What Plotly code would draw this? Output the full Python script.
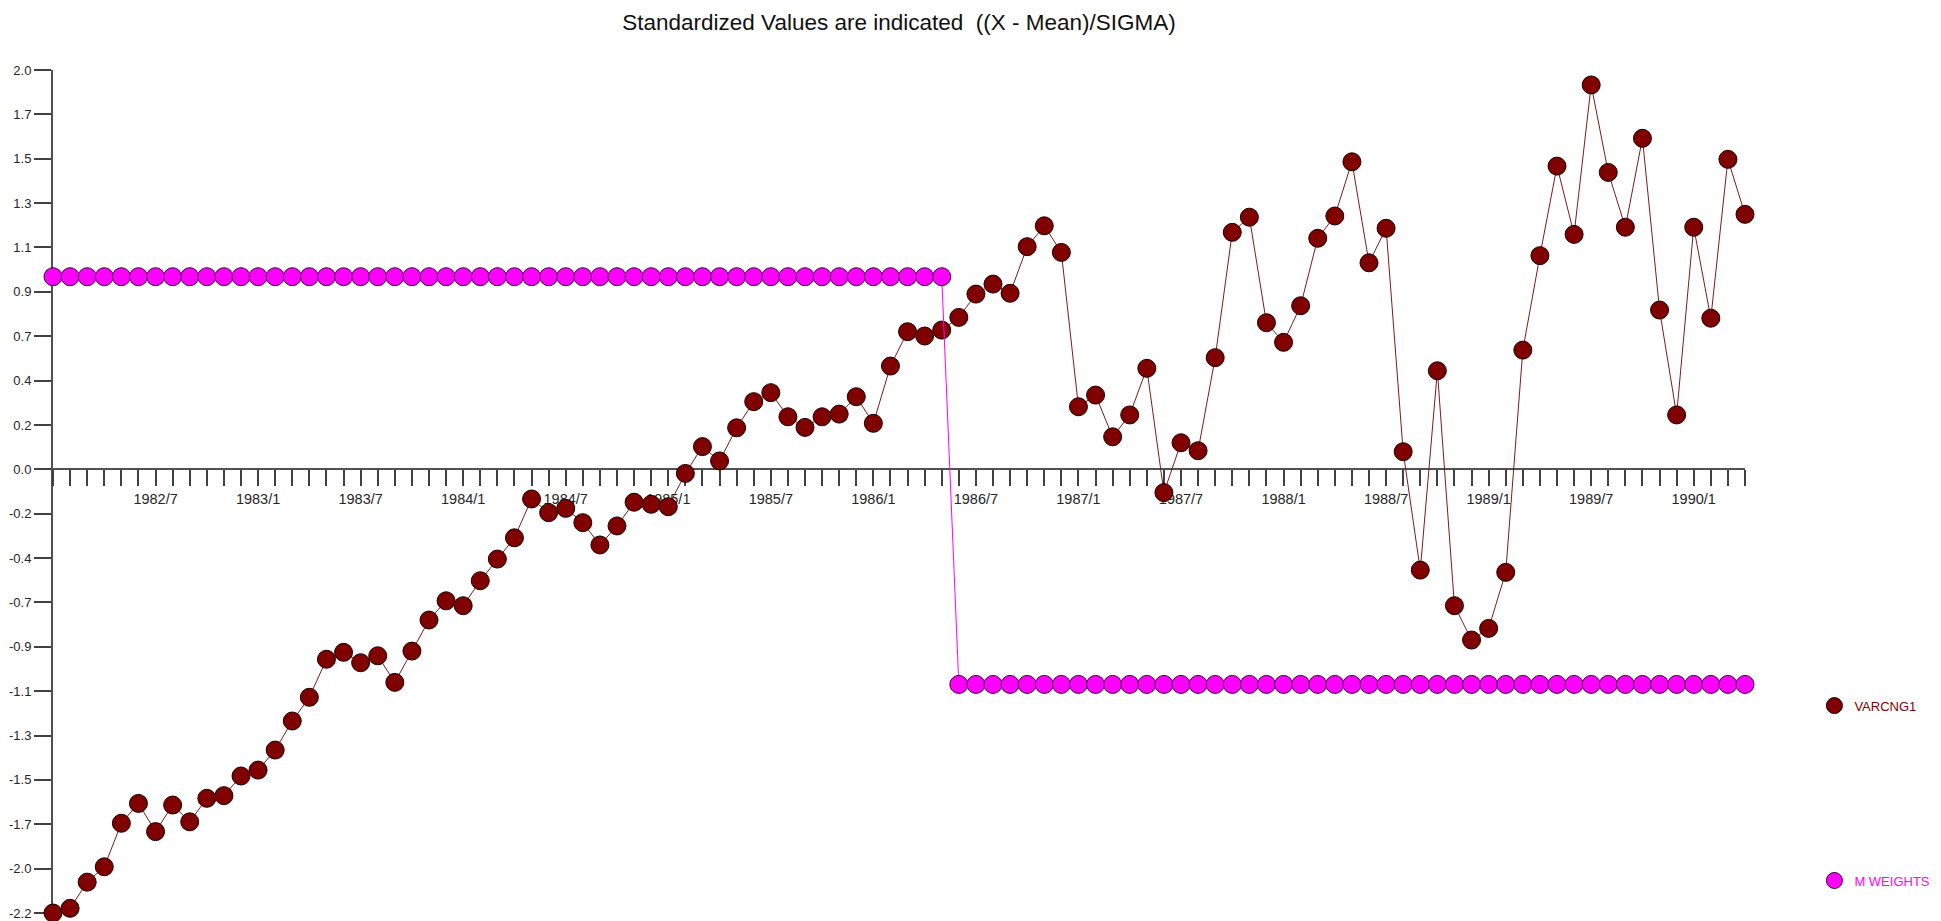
import plotly.graph_objects as go

# ---------------- data ----------------
start_year = 1982
n_points = 100
periods = [f"{start_year + i // 12}/{i % 12 + 1}" for i in range(n_points)]

varcng1 = [
    -2.170, -2.147, -2.019, -1.944, -1.731, -1.634, -1.772, -1.642, -1.724, -1.609,
    -1.596, -1.500, -1.471, -1.373, -1.231, -1.115, -0.929, -0.895, -0.946, -0.912,
    -1.042, -0.889, -0.737, -0.643, -0.667, -0.545, -0.439, -0.335, -0.145, -0.212,
    -0.191, -0.261, -0.370, -0.277, -0.161, -0.171, -0.183, -0.020, 0.111, 0.041,
    0.203, 0.331, 0.375, 0.257, 0.205, 0.257, 0.270, 0.355, 0.225, 0.505,
    0.673, 0.652, 0.681, 0.743, 0.857, 0.906, 0.861, 1.089, 1.191, 1.061,
    0.306, 0.363, 0.159, 0.266, 0.494, -0.114, 0.130, 0.091, 0.546, 1.159,
    1.233, 0.717, 0.621, 0.800, 1.130, 1.239, 1.504, 1.010, 1.179, 0.086,
    -0.493, 0.482, -0.667, -0.835, -0.778, -0.504, 0.583, 1.045, 1.483, 1.149,
    1.880, 1.452, 1.184, 1.619, 0.779, 0.266, 1.184, 0.739, 1.516, 1.247,
]

m_weights = [
    0.942, 0.942, 0.942, 0.942, 0.942, 0.942, 0.942, 0.942, 0.942, 0.942,
    0.942, 0.942, 0.942, 0.942, 0.942, 0.942, 0.942, 0.942, 0.942, 0.942,
    0.942, 0.942, 0.942, 0.942, 0.942, 0.942, 0.942, 0.942, 0.942, 0.942,
    0.942, 0.942, 0.942, 0.942, 0.942, 0.942, 0.942, 0.942, 0.942, 0.942,
    0.942, 0.942, 0.942, 0.942, 0.942, 0.942, 0.942, 0.942, 0.942, 0.942,
    0.942, 0.942, 0.942, -1.052, -1.052, -1.052, -1.052, -1.052, -1.052, -1.052,
    -1.052, -1.052, -1.052, -1.052, -1.052, -1.052, -1.052, -1.052, -1.052, -1.052,
    -1.052, -1.052, -1.052, -1.052, -1.052, -1.052, -1.052, -1.052, -1.052, -1.052,
    -1.052, -1.052, -1.052, -1.052, -1.052, -1.052, -1.052, -1.052, -1.052, -1.052,
    -1.052, -1.052, -1.052, -1.052, -1.052, -1.052, -1.052, -1.052, -1.052, -1.052,
]

y_step = 0.217
y_tick_labels = ["-2.2", "-2.0", "-1.7", "-1.5", "-1.3", "-1.1", "-0.9", "-0.7", "-0.4", "-0.2",
                 "0.0", "0.2", "0.4", "0.7", "0.9", "1.1", "1.3", "1.5", "1.7", "2.0"]
x_label_months = (1, 7)

# ---------------- styling ----------------
FONT = "Liberation Sans, Arial, sans-serif"
MAROON = "#800000"
MAGENTA = "#FF00FF"
AXIS = "#505050"
TXT = "#262626"

# page body has an 8px margin; the figure is sized so it fills the window
W, H = 1933, 913
ML, MR, MT, MB = 44.7, 196.4, 62, 8.3
plot_w = W - ML - MR
plot_h = H - MT - MB

y_ticks = [k * y_step for k in range(-10, 10)]
y_range = [y_ticks[0], y_ticks[-1]]
x_ticktext = [p if (i > 0 and int(p.split("/")[1]) in x_label_months) else "" for i, p in enumerate(periods)]

fig = go.Figure()

fig.add_trace(go.Scatter(
    x=periods, y=varcng1, mode="lines+markers", name="VARCNG1",
    line=dict(color="#7a1c1c", width=1),
    marker=dict(size=18, color=MAROON, line=dict(color="#1a0000", width=1)),
    cliponaxis=False, showlegend=False,
))
fig.add_trace(go.Scatter(
    x=periods, y=m_weights, mode="lines+markers", name="M WEIGHTS",
    line=dict(color=MAGENTA, width=1),
    marker=dict(size=18, color=MAGENTA, line=dict(color="#3a003a", width=1)),
    cliponaxis=False, showlegend=False,
))

# legend entries (marker only)
fig.add_trace(go.Scatter(
    x=[None], y=[None], mode="markers", legendgroup="a",
    name=f"<span style='color:{MAROON}'>VARCNG1</span>",
    marker=dict(size=18, color=MAROON, line=dict(color="#1a0000", width=1)),
))
fig.add_trace(go.Scatter(
    x=[None], y=[None], mode="markers", legendgroup="b",
    name=f"<span style='color:{MAGENTA}'>M WEIGHTS</span>",
    marker=dict(size=18, color=MAGENTA, line=dict(color="#3a003a", width=1)),
))

x_axis_pos = (0 - y_range[0]) / (y_range[1] - y_range[0])

legend_left = 1806      # figure px
legend_top = 682.4      # figure px

fig.update_layout(
    width=W, height=H,
    margin=dict(l=ML, r=MR, t=MT, b=MB, autoexpand=False),
    paper_bgcolor="white", plot_bgcolor="white",
    font=dict(family=FONT, size=13, color=TXT),
    title=dict(
        text="Standardized Values are indicated  ((X - Mean)/SIGMA)",
        font=dict(family=FONT, size=22.5, color="#111111"),
        x=0.5, xref="paper", xanchor="center",
        y=1 - 14 / H, yref="container", yanchor="middle",
    ),
    xaxis=dict(
        type="category", range=[0, len(periods) - 1],
        anchor="free", position=x_axis_pos,
        showline=True, linecolor=AXIS, linewidth=2,
        ticks="outside", ticklen=16, tickwidth=1.5, tickcolor="#404040",
        tickmode="array", tickvals=periods, ticktext=x_ticktext,
        tickfont=dict(family=FONT, size=14.5, color=TXT),
        tickangle=0,
        showgrid=False, zeroline=False, layer="below traces",
    ),
    yaxis=dict(
        range=y_range,
        showline=True, linecolor=AXIS, linewidth=2,
        ticks="outside", ticklen=17, tickwidth=1.5, tickcolor="#404040",
        tickmode="array", tickvals=y_ticks, ticktext=y_tick_labels,
        tickfont=dict(family=FONT, size=13, color=TXT),
        showgrid=False, zeroline=False, layer="below traces",
    ),
    legend=dict(
        x=(legend_left - ML) / plot_w, xanchor="left",
        y=(H - MB - legend_top) / plot_h, yanchor="top",
        tracegroupgap=155, traceorder="grouped",
        font=dict(family=FONT, size=13),
        bgcolor="rgba(0,0,0,0)", borderwidth=0,
        itemclick=False,
    ),
)

fig.write_html("out.html")
